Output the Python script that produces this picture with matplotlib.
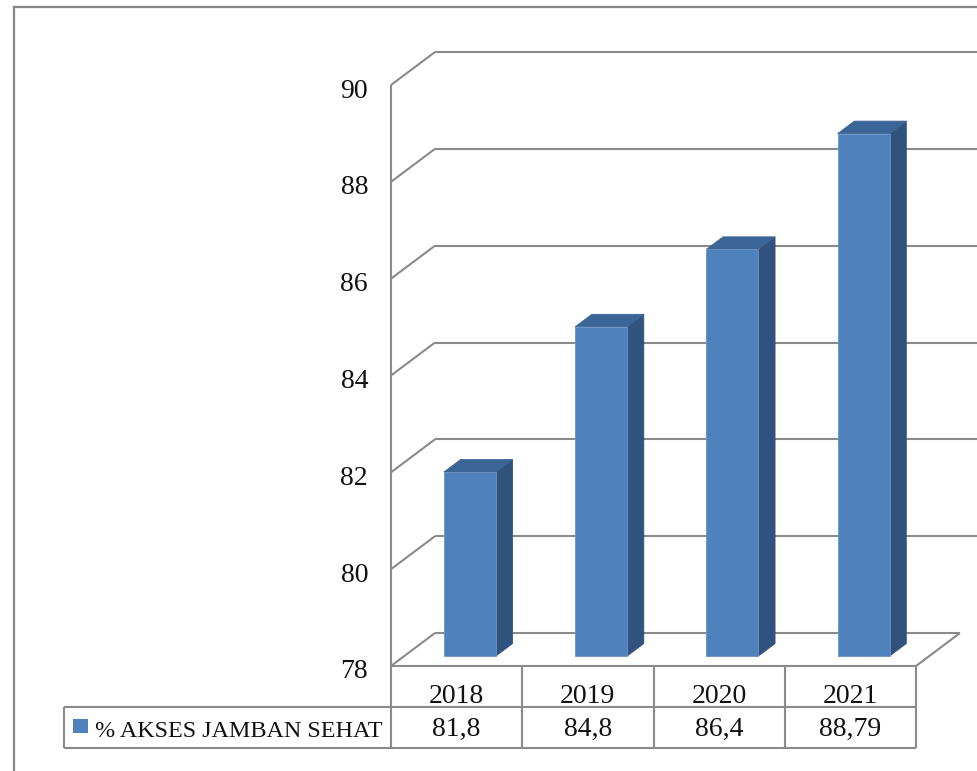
import matplotlib
matplotlib.use('Agg')
import matplotlib.pyplot as plt
from matplotlib.patches import Polygon, Rectangle
from matplotlib.lines import Line2D

# ---- data ----
years = ['2018', '2019', '2020', '2021']
values = [81.8, 84.8, 86.4, 88.79]
value_labels = ['81,8', '84,8', '86,4', '88,79']
series_name = '% AKSES JAMBAN SEHAT'
yticks = [78, 80, 82, 84, 86, 88, 90]

plt.rcParams['font.family'] = ['Liberation Serif', 'DejaVu Serif']

W, H = 977, 771
fig = plt.figure(figsize=(W / 100, H / 100), dpi=100)
fig.patch.set_facecolor('white')

# front plane of the 3D plot area, in pixels
L, R, T, B = 391, 916, 85, 666
ax = fig.add_axes([L / W, 1 - B / H, (R - L) / W, (B - T) / H])
ax.set_xlim(-0.5, len(years) - 0.5)
ax.set_ylim(yticks[0], yticks[-1])
ax.axis('off')

xu = (R - L) / len(years)            # px per x unit
yu = (B - T) / (yticks[-1] - yticks[0])  # px per y unit
DX = 44 / xu
DY = 33 / yu
GRID = '#8a8a8a'
LW = 1.5
ymin = yticks[0]
xl, xr = -0.5, len(years) - 0.5
TXT = '#111111'
FS = 20


def line(xs, ys, **kw):
    ax.add_line(Line2D(xs, ys, color=GRID, lw=LW, clip_on=False,
                       solid_capstyle='butt', **kw))


# back wall gridlines
x_edge = (W + 5 - L) / xu - 0.5
for t in yticks:
    xend = x_edge if t != ymin else xr + DX
    line([xl + DX, xend], [t + DY, t + DY])
    line([xl, xl + DX], [t, t + DY])
# floor right edge
line([xr, xr + DX], [ymin, ymin + DY])
# front left axis
line([xl, xl], [ymin, yticks[-1]])

# y tick labels
for t in yticks:
    ax.text(xl - 23 / xu, t - 12.5 / yu, str(t), ha='right', va='baseline',
            fontsize=FS, color=TXT, clip_on=False)

# bars
BW = 52 / xu
F1, F2 = 0.3, 0.68
FRONT, SIDE, TOP = '#4f81bd', '#30527c', '#3b6597'
EDGE = '#6d93c4'
for i, v in enumerate(values):
    x0, x1 = i - BW / 2, i + BW / 2
    side = [(x1 + DX * F1, ymin + DY * F1), (x1 + DX * F1, v + DY * F1),
            (x1 + DX * F2, v + DY * F2), (x1 + DX * F2, ymin + DY * F2)]
    top = [(x0 + DX * F1, v + DY * F1), (x1 + DX * F1, v + DY * F1),
           (x1 + DX * F2, v + DY * F2), (x0 + DX * F2, v + DY * F2)]
    ax.add_patch(Polygon(side, closed=True, facecolor=SIDE, edgecolor=SIDE,
                         lw=0.6, clip_on=False, zorder=3))
    ax.add_patch(Polygon(top, closed=True, facecolor=TOP, edgecolor=TOP,
                         lw=0.6, clip_on=False, zorder=3))
    ax.add_patch(Rectangle((x0 + DX * F1, ymin + DY * F1), BW, v - ymin,
                           facecolor=FRONT, edgecolor=EDGE, lw=0.6,
                           clip_on=False, zorder=4))

# data table
r1 = 41 / yu
x_left = (64 - L) / xu - 0.5
line([xl, xr], [ymin, ymin])
line([x_left, xr], [ymin - r1, ymin - r1])
line([x_left, xr], [ymin - 2 * r1, ymin - 2 * r1])
for k in range(len(years) + 1):
    line([xl + k, xl + k], [ymin, ymin - 2 * r1])
line([x_left, x_left], [ymin - r1, ymin - 2 * r1])

for i, (yr, lab) in enumerate(zip(years, value_labels)):
    ax.text(i, ymin - 37 / yu, yr, ha='center', va='baseline',
            fontsize=FS, color=TXT, clip_on=False)
    ax.text(i, ymin - 70 / yu, lab, ha='center', va='baseline',
            fontsize=FS, color=TXT, clip_on=False)

# legend key in table
ax.add_patch(Rectangle((x_left + 9 / xu, ymin - 67 / yu),
                       15 / xu, 14 / yu, facecolor=FRONT, edgecolor='none',
                       clip_on=False))
ax.text(x_left + 31 / xu, ymin - 71 / yu, series_name,
        ha='left', va='baseline', fontsize=17.4, color=TXT, clip_on=False)

# outer frame
fig.add_artist(Line2D([14 / W, 1.0], [1 - 7 / H, 1 - 7 / H],
                      transform=fig.transFigure, color='#878787', lw=1.6))
fig.add_artist(Line2D([14 / W, 14 / W], [1 - 7 / H, 0.0],
                      transform=fig.transFigure, color='#878787', lw=1.6))

fig.savefig('out.png', dpi=100, facecolor='white')
